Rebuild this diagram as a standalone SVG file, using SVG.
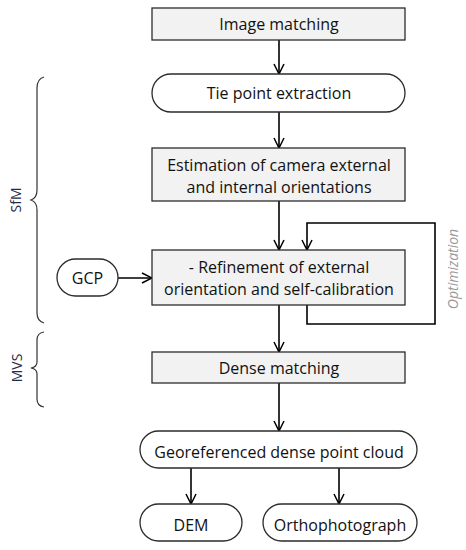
<svg xmlns="http://www.w3.org/2000/svg" width="466" height="550" viewBox="0 0 466 550">
<defs>
<marker id="arr" viewBox="0 0 12 12" refX="11" refY="6" markerWidth="12" markerHeight="12" markerUnits="userSpaceOnUse" orient="auto">
<path d="M1,1 L11,6 L1,11" fill="none" stroke="#000" stroke-width="1.5"/>
</marker>
<style>
.box{fill:#f2f2f2;stroke:#2b2b2b;stroke-width:1.3}
.rnd{fill:#fff;stroke:#2b2b2b;stroke-width:1.3}
.t{font-family:"Open Sans","Liberation Sans",sans-serif;font-size:16px;fill:#111;text-anchor:middle;dominant-baseline:central}
.c{fill:none;stroke:#000;stroke-width:1.6}
.br{fill:none;stroke:#333;stroke-width:1.2}
.lab{font-family:"Open Sans","Liberation Sans",sans-serif;font-size:14px;fill:#1f2d4a;text-anchor:middle;dominant-baseline:central}
.opt{font-family:"Open Sans","Liberation Sans",sans-serif;font-size:14px;font-style:italic;fill:#999;text-anchor:middle;dominant-baseline:central}
</style>
</defs>
<g id="connectors">
<line class="c" x1="279" y1="40" x2="279" y2="74" marker-end="url(#arr)"/>
<line class="c" x1="279" y1="112" x2="279" y2="148" marker-end="url(#arr)"/>
<line class="c" x1="279" y1="201" x2="279" y2="250" marker-end="url(#arr)"/>
<path class="c" d="M307,305 V324 H435 V223 H307 V250" marker-end="url(#arr)"/>
<line class="c" x1="118" y1="278" x2="152" y2="278" marker-end="url(#arr)"/>
<line class="c" x1="279" y1="305" x2="279" y2="352" marker-end="url(#arr)"/>
<line class="c" x1="279" y1="383" x2="279" y2="431" marker-end="url(#arr)"/>
<line class="c" x1="191" y1="468" x2="191" y2="504" marker-end="url(#arr)"/>
<line class="c" x1="339" y1="468" x2="339" y2="504" marker-end="url(#arr)"/>
</g>
<g id="n-image-matching"><rect class="box" x="152" y="8" width="253" height="32"/><text class="t" x="279" y="24">Image matching</text></g>
<g id="n-tie-point"><rect class="rnd" x="152" y="74" width="253" height="38" rx="19"/><text class="t" x="279" y="93">Tie point extraction</text></g>
<g id="n-estimation"><rect class="box" x="152" y="148" width="253" height="53"/><text class="t" x="279" y="165">Estimation of camera external</text><text class="t" x="279" y="187">and internal orientations</text></g>
<g id="n-refinement"><rect class="box" x="152" y="250" width="253" height="55"/><text class="t" x="279" y="267">- Refinement of external</text><text class="t" x="279" y="289">orientation and self-calibration</text></g>
<g id="n-gcp"><rect class="rnd" x="57" y="259" width="61" height="37" rx="18.5"/><text class="t" x="87.5" y="278">GCP</text></g>
<g id="n-dense"><rect class="box" x="152" y="352" width="253" height="31"/><text class="t" x="279" y="368">Dense matching</text></g>
<g id="n-cloud"><rect class="rnd" x="140" y="431" width="277" height="37" rx="18.5"/><text class="t" x="279" y="452">Georeferenced dense point cloud</text></g>
<g id="n-dem"><rect class="rnd" x="140" y="504" width="102" height="37" rx="18.5"/><text class="t" x="191" y="525">DEM</text></g>
<g id="n-ortho"><rect class="rnd" x="263" y="504" width="154" height="37" rx="18.5"/><text class="t" x="340" y="525">Orthophotograph</text></g>
<g id="optimization-label"><text class="opt" transform="translate(452,269) rotate(-90)">Optimization</text></g>
<g id="sfm-brace">
<path class="br" d="M44,77 Q37,79 37,88 V190 Q37,198 31,200 Q37,202 37,210 V313 Q37,321 44,323"/>
<text class="lab" transform="translate(15,200) rotate(-90)">SfM</text>
</g>
<g id="mvs-brace">
<path class="br" d="M44,332 Q37,333 37,340 V362 Q37,367 31,368 Q37,369 37,374 V399 Q37,406 44,407"/>
<text class="lab" transform="translate(16,368) rotate(-90)">MVS</text>
</g>
</svg>
